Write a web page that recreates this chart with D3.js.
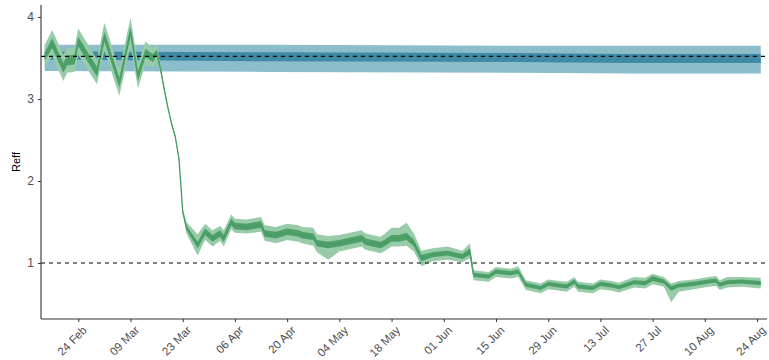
<!DOCTYPE html>
<html>
<head>
<meta charset="utf-8">
<script src="https://cdn.jsdelivr.net/npm/d3@7"></script>
<style>
  html, body { margin: 0; padding: 0; background: #fff; }
  svg { display: block; }
  text { font-family: "Liberation Sans", Arial, sans-serif; }
</style>
</head>
<body>
<svg id="chart" width="769" height="360"></svg>
<script>
// Effective reproduction number, daily estimates (2020)
const dates = [
  "2020-02-15","2020-02-17","2020-02-20","2020-02-21","2020-02-23","2020-02-24","2020-02-29","2020-03-02",
  "2020-03-06","2020-03-09","2020-03-11","2020-03-13","2020-03-15","2020-03-16","2020-03-17","2020-03-18",
  "2020-03-19","2020-03-20","2020-03-21","2020-03-22","2020-03-23","2020-03-24","2020-03-25","2020-03-27",
  "2020-03-29","2020-03-31","2020-04-02","2020-04-03","2020-04-05","2020-04-06","2020-04-09","2020-04-13",
  "2020-04-14","2020-04-17","2020-04-20","2020-04-23","2020-04-24","2020-04-27","2020-04-28","2020-05-01",
  "2020-05-04","2020-05-10","2020-05-11","2020-05-15","2020-05-16","2020-05-18","2020-05-20","2020-05-22",
  "2020-05-24","2020-05-26","2020-05-29","2020-06-02","2020-06-06","2020-06-08","2020-06-09","2020-06-13",
  "2020-06-15","2020-06-19","2020-06-21","2020-06-23","2020-06-27","2020-06-29","2020-07-02","2020-07-04",
  "2020-07-06","2020-07-07","2020-07-11","2020-07-13","2020-07-16","2020-07-18","2020-07-22","2020-07-25",
  "2020-07-27","2020-07-30","2020-08-01","2020-08-03","2020-08-07","2020-08-11","2020-08-13","2020-08-14",
  "2020-08-16","2020-08-20","2020-08-25"
];
const reffMedian = [
  3.52,3.68,3.38,3.47,3.48,3.70,3.33,3.76,
  3.20,3.82,3.28,3.56,3.50,3.56,3.38,3.13,
  2.90,2.70,2.54,2.27,1.63,1.43,1.36,1.22,
  1.38,1.30,1.36,1.30,1.50,1.45,1.44,1.47,
  1.36,1.34,1.38,1.36,1.34,1.32,1.24,1.22,
  1.24,1.30,1.26,1.22,1.24,1.30,1.30,1.32,
  1.24,1.06,1.10,1.12,1.08,1.14,0.85,0.83,
  0.89,0.87,0.89,0.73,0.69,0.74,0.72,0.71,
  0.77,0.71,0.69,0.74,0.72,0.70,0.765,0.75,
  0.81,0.77,0.69,0.72,0.74,0.77,0.78,0.73,
  0.765,0.77,0.75
];
const reffLow95 = [
  3.38,3.52,3.22,3.32,3.33,3.54,3.18,3.59,
  3.04,3.65,3.13,3.42,3.38,3.46,3.33,3.10,
  2.88,2.68,2.52,2.25,1.60,1.36,1.27,1.09,
  1.28,1.20,1.27,1.20,1.41,1.37,1.36,1.38,
  1.27,1.24,1.28,1.26,1.24,1.21,1.13,1.04,
  1.14,1.20,1.16,1.12,1.14,1.20,1.20,1.21,
  1.14,0.96,1.02,1.04,1.01,1.06,0.79,0.77,
  0.83,0.81,0.83,0.67,0.63,0.68,0.66,0.65,
  0.71,0.65,0.63,0.68,0.66,0.64,0.70,0.69,
  0.74,0.71,0.52,0.65,0.68,0.71,0.72,0.67,
  0.70,0.71,0.69
];
const reffLow50 = [
  3.47,3.62,3.32,3.41,3.42,3.64,3.27,3.70,
  3.14,3.76,3.22,3.51,3.45,3.52,3.36,3.12,
  2.89,2.69,2.53,2.26,1.62,1.40,1.33,1.18,
  1.34,1.26,1.32,1.26,1.46,1.41,1.40,1.43,
  1.32,1.30,1.34,1.32,1.30,1.28,1.20,1.18,
  1.20,1.26,1.22,1.18,1.20,1.26,1.26,1.28,
  1.20,1.02,1.07,1.09,1.05,1.10,0.83,0.81,
  0.87,0.85,0.87,0.71,0.67,0.72,0.70,0.69,
  0.75,0.69,0.67,0.72,0.70,0.68,0.74,0.73,
  0.78,0.75,0.66,0.70,0.72,0.75,0.76,0.71,
  0.74,0.75,0.73
];
const reffHigh50 = [
  3.57,3.74,3.44,3.53,3.54,3.76,3.39,3.82,
  3.26,3.88,3.34,3.61,3.55,3.60,3.40,3.14,
  2.91,2.71,2.55,2.28,1.64,1.46,1.39,1.26,
  1.42,1.34,1.40,1.34,1.54,1.49,1.48,1.51,
  1.40,1.38,1.42,1.40,1.38,1.36,1.28,1.26,
  1.28,1.34,1.30,1.26,1.28,1.34,1.34,1.37,
  1.28,1.10,1.13,1.15,1.11,1.18,0.88,0.86,
  0.92,0.90,0.92,0.76,0.72,0.77,0.75,0.74,
  0.80,0.74,0.72,0.77,0.75,0.73,0.79,0.78,
  0.84,0.80,0.72,0.75,0.77,0.80,0.81,0.76,
  0.79,0.80,0.78
];
const reffHigh95 = [
  3.66,3.84,3.54,3.62,3.63,3.86,3.48,3.93,
  3.36,3.99,3.43,3.70,3.62,3.66,3.43,3.16,
  2.92,2.72,2.56,2.29,1.66,1.50,1.45,1.35,
  1.48,1.40,1.45,1.40,1.59,1.54,1.53,1.56,
  1.46,1.44,1.48,1.46,1.44,1.43,1.35,1.33,
  1.34,1.40,1.36,1.32,1.35,1.43,1.43,1.49,
  1.36,1.15,1.18,1.20,1.15,1.24,0.91,0.89,
  0.95,0.93,0.96,0.79,0.75,0.80,0.78,0.77,
  0.83,0.77,0.75,0.80,0.78,0.76,0.83,0.82,
  0.87,0.83,0.75,0.78,0.80,0.83,0.84,0.79,
  0.83,0.83,0.82
];

// Basic reproduction number band (no-intervention reference)
const r0Dates   = ["2020-02-15","2020-04-15","2020-06-20","2020-07-20","2020-08-25"];
const r0Low95   = [3.34,3.33,3.32,3.31,3.31];
const r0Low50   = [3.48,3.46,3.45,3.44,3.44];
const r0High50  = [3.58,3.57,3.56,3.55,3.55];
const r0High95  = [3.66,3.66,3.65,3.65,3.65];

// Reference lines
const refLines = [3.52, 1];

// Axis ticks
const yTicks = [1, 2, 3, 4];
const xTickDates = ["2020-02-24","2020-03-09","2020-03-23","2020-04-06","2020-04-20","2020-05-04",
  "2020-05-18","2020-06-01","2020-06-15","2020-06-29","2020-07-13","2020-07-27","2020-08-10","2020-08-24"];
const xTickLabels = ["24 Feb","09 Mar","23 Mar","06 Apr","20 Apr","04 May","18 May",
  "01 Jun","15 Jun","29 Jun","13 Jul","27 Jul","10 Aug","24 Aug"];

const parse = d3.utcParse("%Y-%m-%d");

const reff = dates.map((d, i) => ({
  date: parse(d), med: reffMedian[i],
  lo95: reffLow95[i], lo50: reffLow50[i], hi50: reffHigh50[i], hi95: reffHigh95[i]
}));
const r0 = r0Dates.map((d, i) => ({
  date: parse(d), lo95: r0Low95[i], lo50: r0Low50[i], hi50: r0High50[i], hi95: r0High95[i]
}));

const plot = { left: 41, right: 767, top: 5, bottom: 319 };

const x = d3.scaleUtc()
  .domain([parse("2020-02-14"), new Date(Date.UTC(2020, 7, 26, 16))])
  .range([plot.left, plot.right]);
const y = d3.scaleLinear()
  .domain([0.317, 4.146])
  .range([plot.bottom, plot.top]);

const svg = d3.select("#chart");

const band = (lo, hi) => d3.area()
  .x(d => x(d.date)).y0(d => y(d[lo])).y1(d => y(d[hi]));

// R0 band
svg.append("path").datum(r0).attr("d", band("lo95", "hi95")).attr("fill", "#8bbdcb");
svg.append("path").datum(r0).attr("d", band("lo50", "hi50")).attr("fill", "#3f8ba6");

// Reff bands and median
svg.append("path").datum(reff).attr("d", band("lo95", "hi95")).attr("fill", "#98cca8");
svg.append("path").datum(reff).attr("d", band("lo50", "hi50")).attr("fill", "#4f9f6b");
svg.append("path").datum(reff)
  .attr("d", d3.line().x(d => x(d.date)).y(d => y(d.med)))
  .attr("fill", "none").attr("stroke", "#479f65").attr("stroke-width", 1.3);

// Dashed reference lines
svg.selectAll("line.ref").data(refLines).join("line")
  .attr("class", "ref")
  .attr("x1", plot.left).attr("x2", plot.right)
  .attr("y1", d => y(d)).attr("y2", d => y(d))
  .attr("stroke", "#000").attr("stroke-width", 1.1)
  .attr("stroke-dasharray", "4,4");

// Y axis
const yAxis = svg.append("g").attr("transform", `translate(${plot.left},0)`)
  .call(d3.axisLeft(y).tickValues(yTicks).tickSize(3).tickPadding(4).tickFormat(d3.format("d")));
yAxis.select(".domain").attr("d", `M0,${plot.bottom}V${plot.top}`).attr("stroke", "#333").attr("stroke-width", 1.1);
yAxis.selectAll(".tick line").attr("stroke", "#333");
yAxis.selectAll(".tick text").attr("fill", "#4d4d4d").attr("font-size", 12)
  .attr("font-family", "Liberation Sans, Arial, sans-serif");

// X axis
const xAxis = svg.append("g").attr("transform", `translate(0,${plot.bottom})`)
  .call(d3.axisBottom(x).tickValues(xTickDates.map(parse)).tickSize(3)
    .tickFormat((d, i) => xTickLabels[i]));
xAxis.select(".domain").attr("d", `M${plot.left},0H${plot.right}`).attr("stroke", "#333").attr("stroke-width", 1.1);
xAxis.selectAll(".tick line").attr("stroke", "#333");
xAxis.selectAll(".tick text")
  .attr("fill", "#4d4d4d").attr("font-size", 11.5)
  .attr("font-family", "Liberation Sans, Arial, sans-serif")
  .attr("text-anchor", "end")
  .attr("y", 0).attr("dy", "0.72em")
  .attr("transform", "translate(3,6) rotate(-45)");

// Y title
svg.append("text")
  .attr("transform", `translate(20,${(plot.top + plot.bottom) / 2}) rotate(-90)`)
  .attr("text-anchor", "middle")
  .attr("font-size", 11)
  .attr("fill", "#000")
  .text("Reff");
</script>
</body>
</html>
